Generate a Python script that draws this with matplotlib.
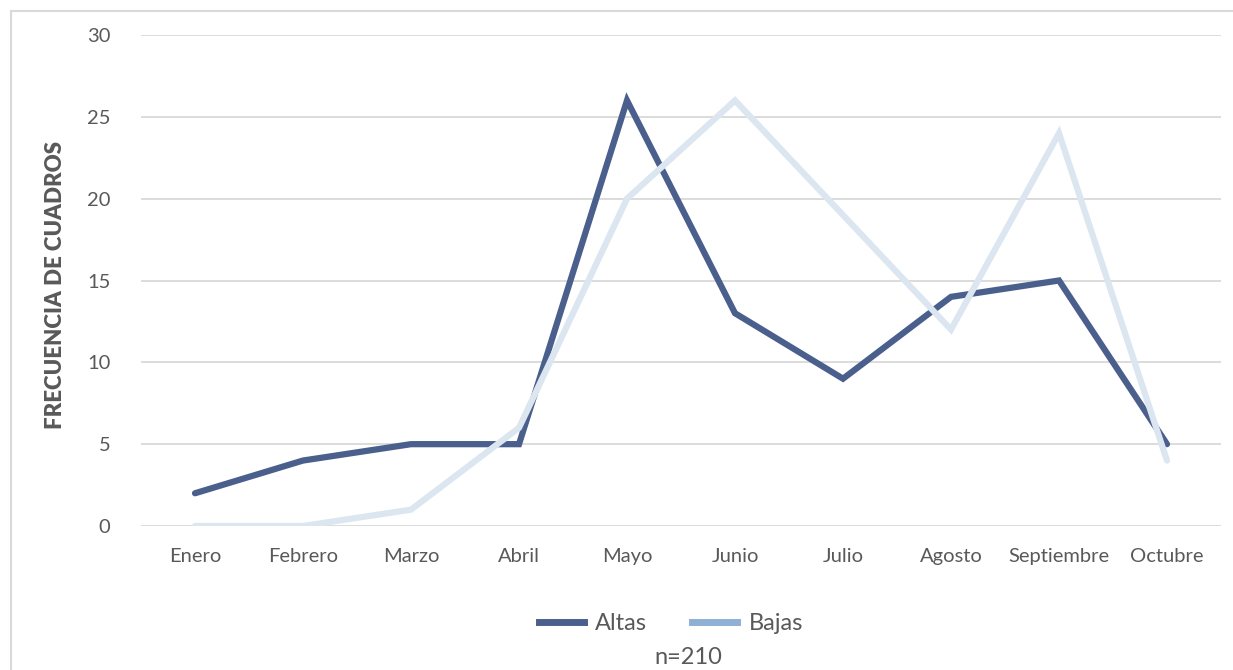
import matplotlib.pyplot as plt
from matplotlib.lines import Line2D
from matplotlib.patches import Rectangle

meses = ['Enero', 'Febrero', 'Marzo', 'Abril', 'Mayo', 'Junio', 'Julio',
         'Agosto', 'Septiembre', 'Octubre']
altas = [2, 4, 5, 5, 26, 13, 9, 14, 15, 5]
bajas = [0, 0, 1, 6, 20, 26, 19, 12, 24, 4]

plt.rcParams['font.family'] = ['Lato', 'DejaVu Sans']

fig = plt.figure(figsize=(12.33, 6.7), dpi=100)
W, H = 1233, 670
ax = fig.add_axes([141 / W, 1 - 526 / H, (1221 - 141) / W, (526 - 35) / H])

# marco del grafico
fig.patches.append(Rectangle((11 / W, -0.1), 1.2, 1 - 11 / H + 0.1,
                             transform=fig.transFigure, fill=False,
                             edgecolor='#d9d9d9', linewidth=1.5))

x = range(len(meses))
ax.plot(x, altas, color='#4a5f8c', linewidth=4.5, solid_joinstyle='miter',
        solid_capstyle='round', zorder=3)
ax.plot(x, bajas, color='#dce6f1', linewidth=4.5, solid_joinstyle='miter',
        solid_capstyle='round', zorder=4)

ax.set_xlim(-0.5, len(meses) - 0.5)
ax.set_ylim(0, 30)
ax.set_yticks(range(0, 31, 5))
ax.set_xticks(list(x))
ax.set_xticklabels(meses)
ax.grid(axis='y', color='#d9d9d9', linewidth=1.3)
ax.set_axisbelow(True)
for s in ax.spines.values():
    s.set_visible(False)
ax.tick_params(length=0, colors='#595959', labelsize=14.5)
ax.tick_params(axis='x', pad=16)
ax.tick_params(axis='y', pad=22)

fig.text(55 / W, 1 - 285 / H, 'FRECUENCIA DE CUADROS', rotation=90,
         ha='center', va='center', fontsize=16, fontweight='heavy',
         color='#595959')

handles = [Line2D([], [], color='#4a5f8c', linewidth=5),
           Line2D([], [], color='#8eb0d4', linewidth=5)]
fig.legend(handles, ['Altas', 'Bajas'], loc='center',
           bbox_to_anchor=(671 / W, 1 - 624 / H), ncol=2, frameon=False,
           fontsize=17, labelcolor='#595959', handlelength=1.9,
           columnspacing=1.9, handletextpad=0.5)
fig.text(688 / W, 1 - 657 / H, 'n=210', ha='center', va='center',
         fontsize=17, color='#595959')

fig.savefig('out.png', dpi=100)
